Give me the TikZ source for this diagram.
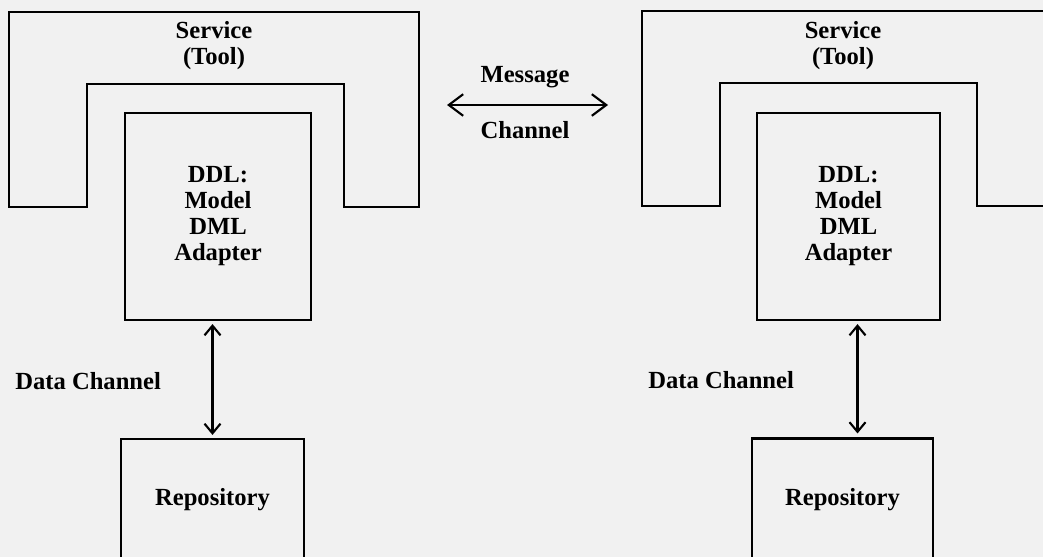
\documentclass[tikz,border=0pt]{standalone}
\usepackage{fontspec}
\setmainfont{Liberation Serif}
\usetikzlibrary{arrows.meta,calc}
\definecolor{paper}{RGB}{241,241,241}
\begin{document}
\begin{tikzpicture}[x=0.025cm,y=-0.025cm,
  line/.style={line width=1.5pt,black},
  lbl/.style={font=\fontsize{17.5}{18.5}\selectfont\bfseries,align=center,inner sep=0pt},
  box/.style={line,draw,minimum width=#1,inner sep=0pt},
  msgtip/.style={{Straight Barb[length=3.6mm,width=5.4mm,line width=1.5pt]}-{Straight Barb[length=3.6mm,width=5.4mm,line width=1.5pt]}},
  datatip/.style={{Straight Barb[length=2.4mm,width=4mm,line width=1.5pt]}-{Straight Barb[length=2.4mm,width=4mm,line width=1.5pt]}}
]
\fill[paper] (0,0) rectangle (1043,557);
\useasboundingbox (0,0) rectangle (1043,557);
\clip (0,0) rectangle (1043,557);

% Service (Tool) shapes
\draw[line] (9,207) -- (9,12) -- (419,12) -- (419,207) -- (344,207) -- (344,84) -- (87,84) -- (87,207) -- cycle;
\draw[line] (1060,206) -- (977,206) -- (977,83) -- (720,83) -- (720,206) -- (642,206) -- (642,11) -- (1060,11);
\node[lbl] (svc1) at (214,46) {Service\\(Tool)};
\node[lbl] (svc2) at (843,46) {Service\\(Tool)};

% DDL boxes
\node[box=4.65cm,minimum height=5.175cm,lbl,draw] (ddl1) at (218,216.5) {DDL:\\Model\\DML\\Adapter};
\node[box=4.575cm,minimum height=5.175cm,lbl,draw] (ddl2) at (848.5,216.5) {DDL:\\Model\\DML\\Adapter};

% Repository boxes
\node[box=4.575cm,minimum height=3.05cm,lbl,draw] (rep1) at (212.5,500) {Repository};
\node[box=4.525cm,minimum height=3.05cm,lbl,draw] (rep2) at (842.5,499.5) {Repository};

% Data channels
\coordinate (d1a) at ($(rep1.north |- ddl1.south)+(0,3)$);
\coordinate (d1b) at ($(rep1.north)+(0,-3)$);
\draw[line,datatip] (d1a) -- (d1b);
\coordinate (d2a) at ($(rep2.north |- ddl2.south)+(15,3)$);
\coordinate (d2b) at ($(rep2.north)+(15,-4)$);
\draw[line,datatip] (d2a) -- (d2b);
\node[lbl,anchor=west] (dc1) at (15,381) {Data Channel};
\node[lbl,anchor=west] (dc2) at (648,380) {Data Channel};

% Message channel
\coordinate (msgL) at (447,105);
\coordinate (msgR) at (608,105);
\draw[line,msgtip] (msgL) -- (msgR);
\node[lbl] (msg) at (525,77) {Message};
\node[lbl] (chan) at (525,130) {Channel};
\end{tikzpicture}
\end{document}
